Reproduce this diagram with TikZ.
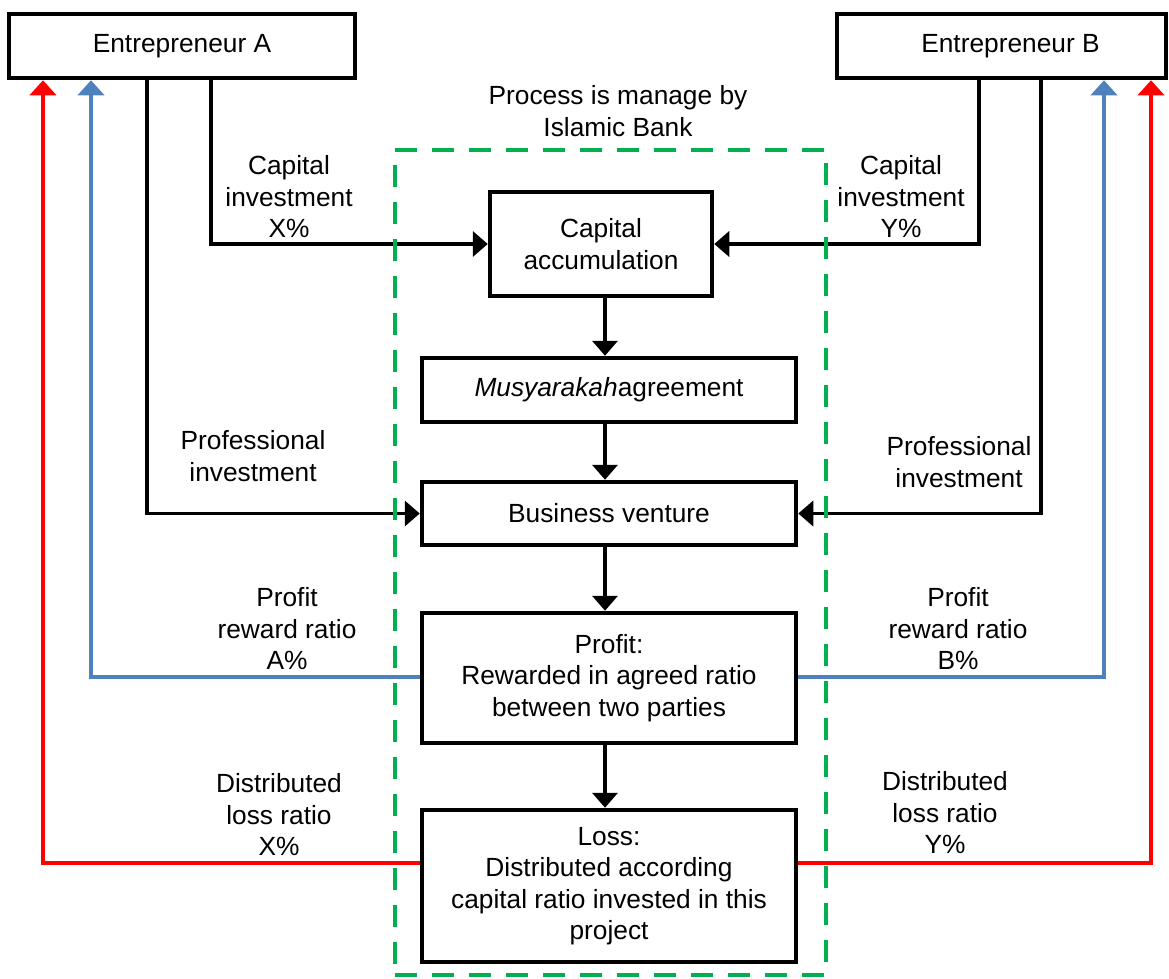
\documentclass[tikz,border=0pt]{standalone}
\usepackage{fontspec}
\setmainfont{Liberation Sans}
\usetikzlibrary{arrows.meta}
\definecolor{lossred}{HTML}{FF0000}
\definecolor{profitblue}{HTML}{4F81BD}
\definecolor{bankgreen}{HTML}{00B050}
\begin{document}
\begin{tikzpicture}[x=1pt,y=-1pt,
  txt/.style={font=\fontsize{26.3}{31.5}\selectfont, align=center, inner sep=0pt},
  box/.style={txt, draw=black, line width=4.5pt, fill=white},
  conn/.style={line width=3.8pt, -{Triangle[length=15pt,width=25pt]}},
  profitline/.style={conn, draw=profitblue, -{Triangle[length=15pt,width=26pt,fill=profitblue]}},
  lossline/.style={conn, draw=lossred, -{Triangle[length=15pt,width=26pt,fill=lossred]}},
  bankframe/.style={draw=bankgreen, line width=4pt, dash pattern=on 22pt off 15pt, inner sep=0pt}
]
\useasboundingbox (0,0) rectangle (1169,978);

% partners
\node[box, minimum width=346pt, minimum height=64pt] (entA) at (182,46) {Entrepreneur A};
\node[box, minimum width=329pt, minimum height=64pt] (entB) at (1001.5,46) {\hspace*{18pt}Entrepreneur B};

% process steps
\node[box, minimum width=222pt, minimum height=104pt] (capacc) at (601,244) {Capital\\accumulation};
\node[box, minimum width=374pt, minimum height=64pt] (musy) at (609,390) {\textit{Musyarakah}agreement};
\node[box, minimum width=374pt, minimum height=63pt] (biz) at (609,513.5) {Business venture};
\node[box, minimum width=374pt, minimum height=130pt] (profit) at (609,678) {Profit:\\Rewarded in agreed ratio\\between two parties};
\node[box, minimum width=374pt, minimum height=152pt] (loss) at (609,886) {Loss:\\Distributed according\\capital ratio invested in this\\project};

% labels
\node[txt] (bankLbl) at (618,111) {Process is manage by\\Islamic Bank};
\node[txt] (capXLbl) at (289,197) {Capital\\investment\\X\%};
\node[txt] (capYLbl) at (901,197) {Capital\\investment\\Y\%};
\node[txt] (proALbl) at (253,456) {Professional\\investment};
\node[txt] (proBLbl) at (959,462) {Professional\\investment};
\node[txt] (profALbl) at (287,629) {Profit\\reward ratio\\A\%};
\node[txt] (profBLbl) at (958,629) {Profit\\reward ratio\\B\%};
\node[txt] (lossXLbl) at (279,815) {Distributed\\loss ratio\\X\%};
\node[txt] (lossYLbl) at (945,813) {Distributed\\loss ratio\\Y\%};

% capital contributions
\draw[conn] (entA.south -| 211,0) |- (capacc.west);
\draw[conn] (entB.south -| 979,0) |- (capacc.east);
% professional contributions
\draw[conn] (entA.south -| 147,0) |- (biz.west);
\draw[conn] (entB.south -| 1041,0) |- (biz.east);

% main flow
\draw[conn] (capacc.south -| 605,0) -- (musy.north -| 605,0);
\draw[conn] (musy.south -| 605,0) -- (biz.north -| 605,0);
\draw[conn] (biz.south -| 605,0) -- (profit.north -| 605,0);
\draw[conn] (profit.south -| 605,0) -- (loss.north -| 605,0);

% profit sharing
\draw[profitline] (profit.west |- 0,677) -| (entA.south -| 91,0);
\draw[profitline] (profit.east |- 0,677) -| (entB.south -| 1104,0);
% loss sharing
\draw[lossline] (loss.west |- 0,863) -| (entA.south -| 43,0);
\draw[lossline] (loss.east |- 0,863) -| (entB.south -| 1151,0);

% scope managed by the bank
\node[bankframe, minimum width=431pt, minimum height=825pt] (bank) at (610.5,562.5) {};
\end{tikzpicture}
\end{document}
